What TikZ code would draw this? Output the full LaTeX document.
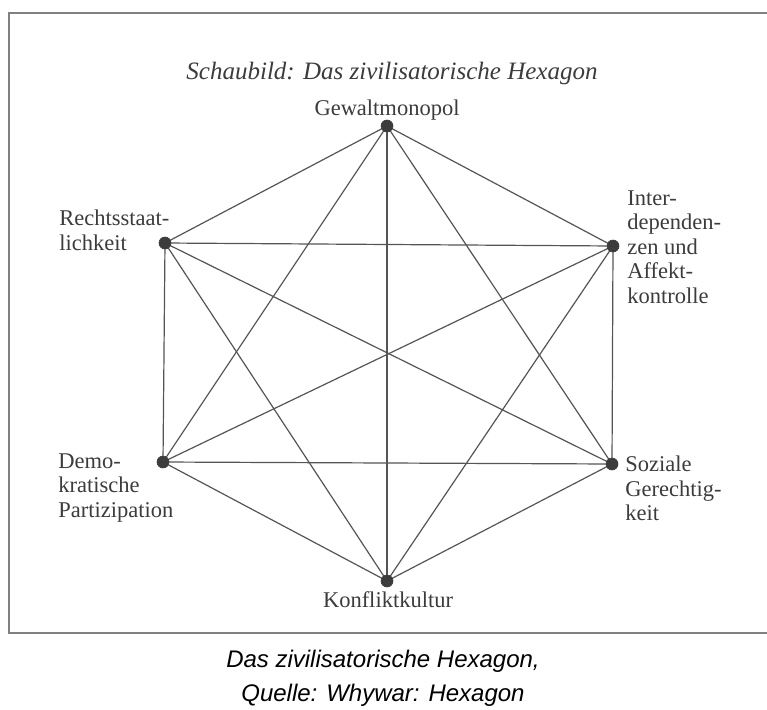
\documentclass[tikz,border=0pt]{standalone}
\usepackage{fontspec}
\setmainfont{Liberation Serif}
\newfontfamily\capfont{Liberation Sans}
\usepackage{tikz}
\usepackage{tkz-euclide}
\definecolor{framegray}{RGB}{128,128,128}
\definecolor{linegray}{RGB}{85,85,85}
\definecolor{inkgray}{RGB}{60,60,60}
\tikzset{lbl/.style={inner sep=0pt,align=left,text=inkgray,font=\fontsize{22.5}{24.5}\selectfont}}

\begin{document}
\begin{tikzpicture}[x=1pt,y=-1pt,semithick]
\useasboundingbox[fill=white](0,0)rectangle(767,709);
\draw[framegray,line width=2pt](767,13)--(9,13)--(9,633)--(767,633);
\tkzDefPoints{387/126/G,613/246/I,612/464/S,387/581/K,163/462/D,165/243/R}
\tkzDrawSegments[linegray,line width=1.2pt](G,I G,S G,K G,D G,R I,S I,K I,D I,R S,K S,D S,R K,D K,R D,R)
\tkzDrawPoints[size=12,color=inkgray,fill=inkgray](G,I,S,K,D,R)
\node[lbl,anchor=base,font=\fontsize{25}{28}\selectfont\itshape](title)at(392,79){Schaubild: Das zivilisatorische Hexagon};
\node[lbl,anchor=base](lG)at([shift={(0,-11)}]G){Gewaltmonopol};
\node[lbl,anchor=north west](lR)at([shift={(-106,-33)}]R){Rechtsstaat-\\lichkeit};
\node[lbl,anchor=north west](lI)at([shift={(14,-56)}]I){Inter-\\dependen-\\zen und\\Affekt-\\kontrolle};
\node[lbl,anchor=north west](lD)at([shift={(-105,-9)}]D){Demo-\\kratische\\Partizipation};
\node[lbl,anchor=north west](lS)at([shift={(13,-8)}]S){Soziale\\Gerechtig-\\keit};
\node[lbl,anchor=base](lK)at([shift={(1,26)}]K){Konfliktkultur};
\node[inner sep=0pt,align=center,anchor=north,font=\capfont\itshape\fontsize{24}{34}\selectfont](cap)at(383,650){Das zivilisatorische Hexagon,\\Quelle: Whywar: Hexagon};
\end{tikzpicture}
\end{document}
